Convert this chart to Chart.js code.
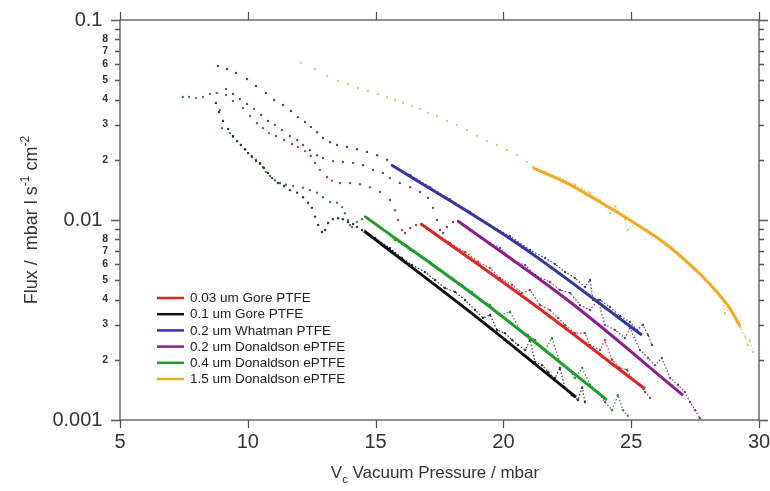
<!DOCTYPE html>
<html lang="en">
<head>
    <meta charset="UTF-8">
    <title>Flux vs vacuum pressure</title>
    <script src="https://cdn.jsdelivr.net/npm/chart.js"></script>
    <style>
        body { margin: 0; background: #fff; }
        canvas { display: block; }
    </style>
</head>
<body>
    <canvas id="fluxChart" width="770" height="491"></canvas>

    <script>
        // series names, same order as the legend
        const seriesNames = ['0.03 um Gore PTFE', '0.1 um Gore PTFE', '0.2 um Whatman PTFE',
                             '0.2 um Donaldson ePTFE', '0.4 um Donaldson ePTFE', '1.5 um Donaldson ePTFE'];

        const xTickValues = [5, 10, 15, 20, 25, 30];
        const yTickValues = [0.001, 0.002, 0.003, 0.004, 0.005, 0.006, 0.007, 0.008, 0.009,
                             0.01, 0.02, 0.03, 0.04, 0.05, 0.06, 0.07, 0.08, 0.09, 0.1];

        // measured points [pressure mbar, flux]
        const redRaw = [
            [9.15,0.0422],[9.42,0.0394],[9.81,0.0363],[10.09,0.0331],[10.36,0.0305],[10.59,0.0288],[10.83,0.0272],
            [11.10,0.0263],[11.42,0.0251],[11.73,0.0240],[11.96,0.0232],[12.24,0.0221],[12.47,0.0209],[12.63,0.0193],
            [12.82,0.0178],[13.10,0.0164],[13.29,0.0157],[13.61,0.0153],[14.00,0.0153],[14.39,0.0151],[14.78,0.0146],
            [15.17,0.0138],[15.56,0.0126],[15.76,0.0112],[15.88,0.0100],[16.03,0.00891],[16.15,0.00861],[16.35,0.00912],
            [16.58,0.00944],[16.78,0.00955],
            [17.32,0.00861],[17.91,0.00767],[18.50,0.00692],[19.01,0.00617],[19.48,0.00575],[19.87,0.00513],[20.34,0.00473],
            [20.73,0.00432],[21.04,0.00447],[21.43,0.00376],[21.82,0.00355],[22.14,0.00324],[22.41,0.00299],[22.80,0.00272],
            [23.19,0.00272],[23.39,0.00237],[23.78,0.00224],[23.97,0.00251],[24.25,0.00200],[24.56,0.00182],[24.84,0.00178],
            [25.07,0.00158],[25.34,0.00150],[25.54,0.00138],[25.74,0.00129]
        ];
        const blackRaw = [
            [8.75,0.0385],[8.87,0.0347],[9.03,0.0313],[9.23,0.0285],[9.42,0.0263],[9.58,0.0248],[9.73,0.0237],[9.89,0.0226],
            [10.01,0.0216],[10.16,0.0207],[10.32,0.0197],[10.48,0.0191],[10.63,0.0182],[10.79,0.0172],[10.95,0.0162],
            [11.18,0.0153],[11.42,0.0148],[11.65,0.0141],[11.93,0.0137],[12.16,0.0130],[12.36,0.0122],[12.51,0.0115],
            [12.63,0.0104],[12.75,0.00944],[12.90,0.00871],[13.02,0.00891],[13.14,0.00966],[13.33,0.0101],[13.53,0.0102],
            [13.72,0.0101],[13.92,0.00977],[14.12,0.00955],[14.27,0.00923],[14.47,0.00891],
            [14.98,0.00813],[15.56,0.00724],[16.03,0.00646],[16.42,0.00596],[16.93,0.00550],[17.32,0.00501],[17.71,0.00457],
            [18.11,0.00437],[18.50,0.00398],[18.89,0.00355],[19.20,0.00324],[19.48,0.00335],[19.75,0.00282],[20.06,0.00272],
            [20.34,0.00251],[20.57,0.00237],[20.85,0.00224],[21.04,0.00251],[21.24,0.00195],[21.51,0.00188],[21.75,0.00174],
            [22.02,0.00162],[22.21,0.00182],[22.41,0.00145],[22.68,0.00133],[22.92,0.00126],[23.08,0.00145],[23.19,0.00123]
        ];
        const blueRaw = [
            [8.83,0.0589],[9.19,0.0569],[9.54,0.0543],[9.97,0.0507],[10.32,0.0468],[10.71,0.0432],[11.03,0.0398],
            [11.38,0.0376],[11.69,0.0351],[11.96,0.0327],[12.24,0.0309],[12.47,0.0292],[12.71,0.0275],[12.94,0.0257],
            [13.22,0.0245],[13.49,0.0237],[13.88,0.0232],[14.27,0.0226],[14.66,0.0219],[15.06,0.0211],[15.45,0.0200],
            [15.64,0.0188],
            [16.35,0.0168],[17.13,0.0146],[17.91,0.0127],[18.69,0.0110],[19.48,0.00944],[20.26,0.00832],[21.04,0.00708],
            [21.63,0.00646],[22.02,0.00603],[22.41,0.00550],[22.80,0.00513],[23.19,0.00462],[23.39,0.00501],[23.51,0.00398],
            [23.78,0.00398],[24.17,0.00367],[24.56,0.00331],[24.95,0.00309],[25.23,0.00282],[25.46,0.00299],[25.66,0.00266],
            [25.81,0.00237]
        ];
        const purpleRaw = [
            [9.15,0.0452],[9.42,0.0427],[9.69,0.0403],[9.97,0.0380],[10.24,0.0359],[10.52,0.0335],[10.79,0.0313],
            [11.06,0.0299],[11.34,0.0282],[11.65,0.0263],[11.93,0.0251],[12.16,0.0237],[12.43,0.0224],[12.71,0.0211],
            [12.94,0.0204],[13.33,0.0197],[13.72,0.0195],[14.12,0.0193],[14.51,0.0188],[14.90,0.0178],[15.29,0.0172],
            [15.56,0.0162],[15.95,0.0153],[16.35,0.0146],[16.74,0.0138],[17.05,0.0129],[17.25,0.0115],[17.40,0.0100],
            [17.52,0.00891],[17.64,0.00861],[17.79,0.00923],[18.03,0.00977],[18.22,0.00989],
            [18.69,0.00891],[19.28,0.00794],[19.87,0.00724],[20.45,0.00617],[20.85,0.00596],[21.24,0.00531],[21.82,0.00490],
            [22.21,0.00447],[22.61,0.00432],[23.00,0.00376],[23.39,0.00355],[23.70,0.00398],[23.97,0.00299],[24.36,0.00282],
            [24.76,0.00257],[24.95,0.00288],[25.34,0.00224],[25.66,0.00204],[25.93,0.00188],[26.20,0.00204],[26.52,0.00162],
            [26.83,0.00150],[27.10,0.00138],[27.30,0.00123],[27.50,0.00112],[27.69,0.00102]
        ];
        const greenRaw = [
            [7.46,0.0412],[7.70,0.0412],[7.97,0.0407],[8.25,0.0412],[8.52,0.0427],[8.79,0.0432],[8.91,0.0355],[8.99,0.0288],
            [9.30,0.0272],[9.42,0.0260],[9.58,0.0248],[9.73,0.0237],[9.89,0.0226],[10.01,0.0216],[10.16,0.0209],[10.32,0.0200],
            [10.48,0.0193],[10.59,0.0184],[10.71,0.0174],[10.87,0.0166],[11.06,0.0158],[11.26,0.0153],[11.49,0.0150],
            [11.77,0.0148],[12.16,0.0145],[12.43,0.0141],[12.71,0.0137],[12.94,0.0130],[13.22,0.0123],[13.49,0.0122],
            [13.69,0.0116],[13.80,0.0108],[13.92,0.0100],[14.00,0.00944],[14.08,0.00923],[14.27,0.00977],[14.47,0.0101],
            [14.59,0.0104],
            [15.17,0.00923],[15.76,0.00794],[16.35,0.00708],[16.74,0.00661],[17.13,0.00617],[17.52,0.00562],[17.99,0.00513],
            [18.38,0.00473],[18.77,0.00437],[19.08,0.00398],[19.48,0.00376],[19.87,0.00335],[20.26,0.00347],[20.65,0.00282],
            [20.96,0.00266],[21.24,0.00251],[21.63,0.00224],[21.90,0.00257],[22.21,0.00195],[22.52,0.00182],[22.80,0.00162],
            [23.08,0.00182],[23.39,0.00150],[23.70,0.00138],[23.97,0.00123],[24.25,0.00112],[24.48,0.00133],[24.68,0.00112],
            [24.87,0.00105]
        ];
        const orangeRaw = [
            [12.08,0.0612],[12.63,0.0569],[13.10,0.0525],[13.53,0.0495],[13.92,0.0479],[14.31,0.0457],[14.70,0.0442],
            [15.09,0.0427],[15.45,0.0412],[15.76,0.0398],[16.07,0.0385],[16.42,0.0372],[16.74,0.0359],[17.05,0.0343],
            [17.40,0.0331],[17.79,0.0313],[18.18,0.0299],[18.58,0.0282],[18.97,0.0263],[19.36,0.0248],[19.75,0.0237],
            [20.14,0.0224],[20.53,0.0211],[20.92,0.0195],[21.16,0.0184],
            [21.63,0.0174],[22.21,0.0162],[22.80,0.0150],[23.39,0.0137],[23.78,0.0126],[24.17,0.0108],[24.37,0.0117],
            [24.76,0.0100],[24.87,0.00891],[25.15,0.00955],[25.74,0.00851],[26.33,0.00750],[26.91,0.00661],[27.22,0.00617],
            [27.50,0.00562],[27.89,0.00501],[28.28,0.00447],[28.59,0.00398],[28.67,0.00343],[28.87,0.00363],[29.14,0.00309],
            [29.26,0.00292],[29.45,0.00260],[29.57,0.00237],[29.65,0.00251],[29.77,0.00219]
        ];

        // fitted curves [pressure mbar, flux]
        const redFit = [[16.78,0.00955],[21.16,0.00380],[25.54,0.00143]];
        const blackFit = [[14.55,0.00881],[18.69,0.00347],[22.84,0.00130]];
        const blueFit = [[15.64,0.0188],[20.57,0.00759],[25.42,0.00266]];
        const purpleFit = [[18.22,0.00989],[22.61,0.00389],[27.03,0.00133]];
        const greenFit = [[14.59,0.0104],[19.32,0.00380],[24.05,0.00126]];
        const orangeFit = [[21.16,0.0182],[22.49,0.0153],[23.78,0.0123],[25.07,0.00977],[26.36,0.00759],
                           [27.69,0.00537],[28.28,0.00447],[28.79,0.00372],[29.26,0.00295]];

        const rawSets = [redRaw, blackRaw, blueRaw, purpleRaw, greenRaw, orangeRaw];
        const fitSets = [redFit, blackFit, blueFit, purpleFit, greenFit, orangeFit];

        const fitColors = ['#dd2626', '#111111', '#3535a3', '#8c1f8e', '#1f9d2c', '#f4a81d'];
        const rawColors = ['#a84444', '#333333', '#44448c', '#7a4080', '#3a8844', '#d8cc88'];

        const toXY = pts => pts.map(p => ({ x: p[0], y: p[1] }));
        const isDecade = v => [0.001, 0.01, 0.1].some(d => Math.abs(v - d) < 1e-9);

        const datasets = [];
        fitSets.forEach((pts, i) => {
            datasets.push({
                label: seriesNames[i],
                data: toXY(pts),
                borderColor: fitColors[i],
                borderWidth: 3,
                pointRadius: 0,
                tension: 0.35,
                order: 1
            });
        });
        rawSets.forEach((pts, i) => {
            const startX = fitSets[i][0][0];
            datasets.push({
                label: seriesNames[i] + ' data',
                data: toXY(pts),
                borderColor: rawColors[i],
                borderWidth: 1.2,
                borderDash: [1.5, 2],
                pointRadius: 1.2,
                pointBorderWidth: 0,
                pointBackgroundColor: rawColors[i],
                segment: {
                    // only the noisy tail is drawn as a dotted trace
                    borderColor: ctx => ctx.p0.parsed.x < startX - 0.01 ? 'transparent' : rawColors[i]
                },
                order: 2
            });
        });

        // box, outer ticks, legend and axis titles
        const decor = {
            id: 'decor',
            afterDraw(chart) {
                const { ctx, chartArea: a, scales: { x, y } } = chart;
                ctx.save();
                ctx.strokeStyle = '#555';
                ctx.lineWidth = 1.3;
                ctx.strokeRect(a.left, a.top, a.right - a.left, a.bottom - a.top);
                ctx.beginPath();
                yTickValues.forEach(v => {
                    const py = Math.round(y.getPixelForValue(v)) + 0.5;
                    const len = isDecade(v) ? 9 : 5;
                    ctx.moveTo(a.left - len, py); ctx.lineTo(a.left, py);
                    ctx.moveTo(a.right, py); ctx.lineTo(a.right + len, py);
                });
                xTickValues.forEach(v => {
                    const px = Math.round(x.getPixelForValue(v)) + 0.5;
                    ctx.moveTo(px, a.bottom); ctx.lineTo(px, a.bottom + 8);
                    ctx.moveTo(px, a.top - 8); ctx.lineTo(px, a.top);
                });
                ctx.stroke();

                // legend
                ctx.font = '13.5px Arial';
                ctx.textBaseline = 'middle';
                ctx.textAlign = 'left';
                seriesNames.forEach((name, i) => {
                    const ly = 298 + i * 16.2;
                    ctx.strokeStyle = fitColors[i];
                    ctx.lineWidth = 2.5;
                    ctx.beginPath();
                    ctx.moveTo(157, ly); ctx.lineTo(184, ly);
                    ctx.stroke();
                    ctx.fillStyle = '#222';
                    ctx.fillText(name, 190, ly + 0.5);
                });

                // x title with subscript
                ctx.fillStyle = '#333';
                ctx.textBaseline = 'alphabetic';
                const xParts = [['V', '17px Arial', 0], ['c', '11px Arial', 5], [' Vacuum Pressure / mbar', '17px Arial', 0]];
                let w = 0;
                xParts.forEach(p => { ctx.font = p[1]; w += ctx.measureText(p[0]).width; });
                let cx = 435 - w / 2;
                xParts.forEach(p => {
                    ctx.font = p[1];
                    ctx.fillText(p[0], cx, 478 + p[2]);
                    cx += ctx.measureText(p[0]).width;
                });

                // y title with superscripts
                const yParts = [['Flux /  mbar l s', '18px Arial', 0], ['-1', '12px Arial', -8],
                                [' cm', '18px Arial', 0], ['-2', '12px Arial', -8]];
                ctx.translate(37, 220);
                ctx.rotate(-Math.PI / 2);
                w = 0;
                yParts.forEach(p => { ctx.font = p[1]; w += ctx.measureText(p[0]).width; });
                cx = -w / 2;
                yParts.forEach(p => {
                    ctx.font = p[1];
                    ctx.fillText(p[0], cx, p[2]);
                    cx += ctx.measureText(p[0]).width;
                });
                ctx.restore();
            }
        };

        new Chart(document.getElementById('fluxChart'), {
            type: 'line',
            data: { datasets: datasets },
            plugins: [decor],
            options: {
                responsive: false,
                animation: false,
                layout: { padding: { left: 0, right: 11, top: 20, bottom: 0 } },
                plugins: { legend: { display: false }, tooltip: { enabled: false } },
                scales: {
                    x: {
                        type: 'linear',
                        min: 5,
                        max: 30,
                        grid: { display: false, drawTicks: false },
                        border: { display: false },
                        afterBuildTicks: s => { s.ticks = xTickValues.map(v => ({ value: v })); },
                        afterFit: s => { s.height = 71; s.paddingLeft = 0; s.paddingRight = 0; },
                        ticks: {
                            padding: 10,
                            maxRotation: 0,
                            autoSkip: false,
                            color: '#333',
                            font: { family: 'Arial', size: 20 }
                        }
                    },
                    y: {
                        type: 'logarithmic',
                        min: 0.001,
                        max: 0.1,
                        grid: { display: false, drawTicks: false },
                        border: { display: false },
                        afterBuildTicks: s => { s.ticks = yTickValues.map(v => ({ value: v })); },
                        afterFit: s => { s.width = 120; s.paddingTop = 0; s.paddingBottom = 0; },
                        ticks: {
                            padding: 12,
                            autoSkip: false,
                            color: '#333',
                            font: ctx => (ctx.tick && isDecade(ctx.tick.value)
                                ? { family: 'Arial', size: 20 }
                                : { family: 'Arial', size: 10.5, weight: 'bold' }),
                            callback: v => {
                                if (isDecade(v)) return String(v) + ' ';
                                const d = Math.round(v / Math.pow(10, Math.floor(Math.log10(v) + 1e-9)));
                                return d === 9 ? '' : String(d);
                            }
                        }
                    }
                }
            }
        });
    </script>
</body>
</html>
